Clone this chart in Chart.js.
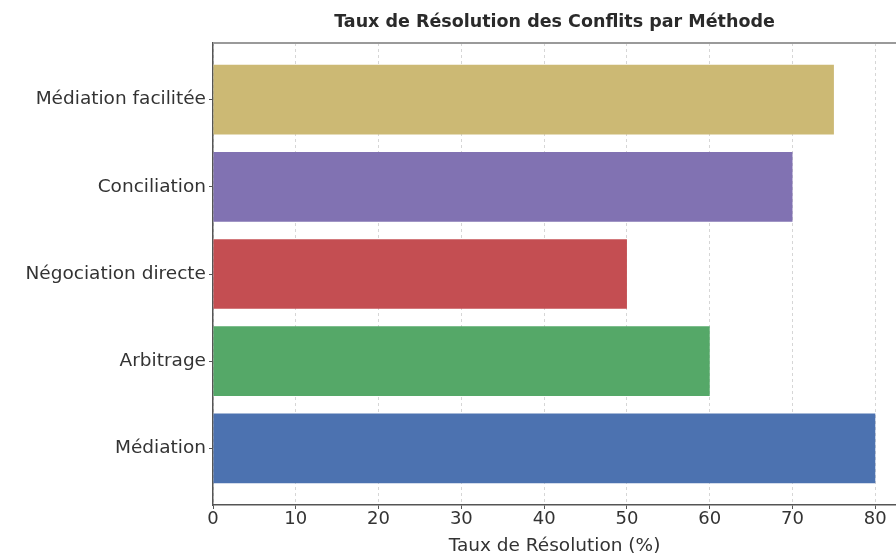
<!DOCTYPE html>
<html>
<head>
<meta charset="utf-8">
<script src="https://cdn.jsdelivr.net/npm/chart.js@4"></script>
<style>
  html, body { margin: 0; padding: 0; background: #fff; overflow: hidden; }
  #wrap { width: 896px; height: 557px; }
</style>
</head>
<body>
<div id="wrap"><canvas id="myChart" width="896" height="557"></canvas></div>
<script>
'use strict';

// bottom to top, like the original plot
const methods = ['Médiation', 'Arbitrage', 'Négociation directe', 'Conciliation', 'Médiation facilitée'];
const rates = [80, 60, 50, 70, 75];
const barColors = ['#4C72B0', '#55A868', '#C44E52', '#8172B2', '#CCB974'];
const xTicks = [0, 10, 20, 30, 40, 50, 60, 70, 80];

const fontFamily = "'DejaVu Sans', sans-serif";
const ctx = document.getElementById('myChart').getContext('2d');

// top border of the plot frame
const topFrame = {
  id: 'topFrame',
  afterDraw(chart) {
    const a = chart.chartArea;
    const c = chart.ctx;
    c.save();
    c.strokeStyle = '#9a9a9a';
    c.lineWidth = 2;
    c.beginPath();
    c.moveTo(a.left, a.top);
    c.lineTo(a.right + 5, a.top);
    c.stroke();
    c.restore();
  }
};

const myChart = new Chart(ctx, {
  type: 'bar',
  data: {
    datasets: [{
      label: 'Taux de Résolution (%)',
      data: rates.map((v, i) => ({ x: v, y: i })),
      backgroundColor: barColors,
      borderWidth: 0,
      barPercentage: 0.8,
      categoryPercentage: 1
    }]
  },
  plugins: [topFrame],
  options: {
    indexAxis: 'y',
    responsive: false,
    animation: false,
    layout: { padding: 0 },
    plugins: {
      legend: { display: false },
      tooltip: { enabled: false },
      title: {
        display: true,
        fullSize: false,
        text: 'Taux de Résolution des Conflits par Méthode',
        color: '#2a2a2a',
        font: { family: fontFamily, size: 17.5, weight: 'bold' },
        padding: { top: 12, bottom: 10 }
      }
    },
    scales: {
      x: {
        type: 'linear',
        min: 0,
        max: 82.5,
        afterBuildTicks(scale) { scale.ticks = xTicks.map(v => ({ value: v })); },
        afterFit(scale) { scale.height = 52; },
        ticks: {
          color: '#333',
          font: { family: fontFamily, size: 18 },
          padding: 0,
          maxRotation: 0
        },
        grid: {
          color: '#d6d6d6',
          lineWidth: 1,
          tickLength: 4,
          tickColor: '#555'
        },
        border: { display: true, color: '#555', width: 1.5, dash: [3, 3] },
        title: {
          display: true,
          text: 'Taux de Résolution (%)',
          color: '#333',
          font: { family: fontFamily, size: 18.5 },
          padding: { top: 0, bottom: 0 }
        }
      },
      y: {
        type: 'linear',
        offset: false,
        min: -0.65,
        max: 4.65,
        afterBuildTicks(scale) { scale.ticks = methods.map((m, i) => ({ value: i })); },
        afterFit(scale) { scale.width = 213; },
        ticks: {
          color: '#333',
          font: { family: fontFamily, size: 18.5 },
          padding: 3,
          callback: (v) => methods[v]
        },
        grid: {
          display: true,
          offset: false,
          drawOnChartArea: false,
          tickLength: 4,
          tickColor: '#555'
        },
        border: { display: true, color: '#555', width: 1.5 }
      }
    }
  }
});
</script>
</body>
</html>
